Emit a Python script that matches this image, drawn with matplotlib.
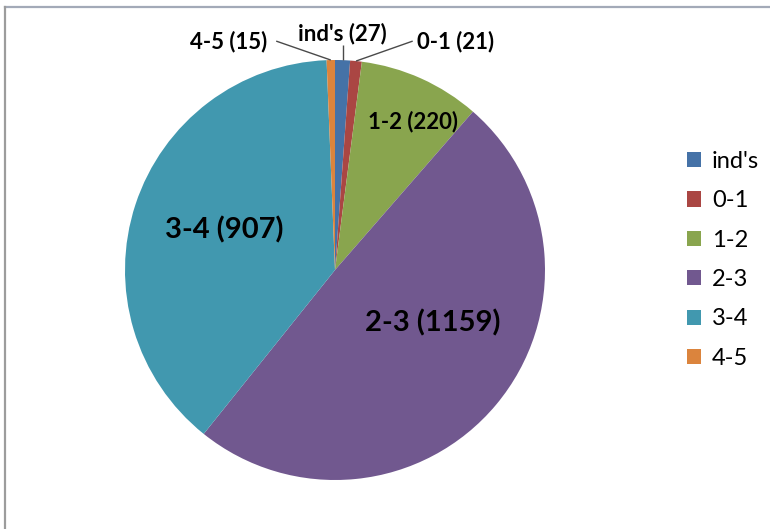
import numpy as np
import matplotlib
matplotlib.use("Agg")
import matplotlib.pyplot as plt
from matplotlib.patches import Rectangle

# data
labels = ["ind's", "0-1", "1-2", "2-3", "3-4", "4-5"]
counts = [27, 21, 220, 1159, 907, 15]
colors = ["#4572A7", "#AA4643", "#89A54E", "#71588F", "#4198AF", "#DB843D"]

plt.rcParams['font.family'] = ['Lato', 'DejaVu Sans']

fig = plt.figure(figsize=(7.7, 5.29), dpi=100)
fig.patch.set_facecolor("white")

# chart frame (top and left edges visible)
fig.add_artist(plt.Line2D([4.5/770, 1.0], [1 - 6.5/529, 1 - 6.5/529],
                          transform=fig.transFigure, color="#A3AAB8", lw=1.6))
fig.add_artist(plt.Line2D([4.5/770, 4.5/770], [0.0, 1 - 6.5/529],
                          transform=fig.transFigure, color="#9C9C9C", lw=1.6))

# pie axes: centre (335, 270) px, radius 210 px
ax = fig.add_axes([125/770, 49/529, 420/770, 420/529])
wedges, _ = ax.pie(counts, colors=colors, startangle=90, counterclock=False,
                   radius=1.0, wedgeprops=dict(linewidth=0))
ax.set_xlim(-1, 1)
ax.set_ylim(-1, 1)
ax.set_aspect("equal")
ax.axis("off")

def mid_angle(w):
    return np.deg2rad((w.theta1 + w.theta2) / 2.0)

# inside labels (radius, angle offset in degrees, font size)
inside = {2: (0.80, -3.5, 16), 3: (0.53, 11.5, 21), 4: (0.56, -1.5, 21)}
for i, (r, off, fs) in inside.items():
    a = mid_angle(wedges[i]) + np.deg2rad(off)
    ax.text(r * np.cos(a), r * np.sin(a), f"{labels[i]} ({counts[i]})",
            ha="center", va="center", fontsize=fs, fontweight="bold",
            color="black")

# outside labels with leader lines
outside = {
    0: ((0.04, 1.125), "center", [(0.04, 1.07)]),
    1: ((0.39, 1.09), "left", [(0.37, 1.09)]),
    5: ((-0.325, 1.09), "right", [(-0.28, 1.09)]),
}
for i, (pos, ha, knots) in outside.items():
    a = mid_angle(wedges[i])
    x0, y0 = np.cos(a), np.sin(a)
    pts = [(x0, y0)] + knots
    if ha == "center":
        pts = [(x0, y0), (x0, knots[0][1])]
    xs, ys = zip(*pts)
    ax.plot(xs, ys, color="#4A4A4A", lw=1.0, clip_on=False,
            solid_capstyle="butt")
    ax.text(pos[0] if ha != "center" else x0, pos[1],
            f"{labels[i]} ({counts[i]})", ha=ha, va="center",
            fontsize=16, fontweight="bold", color="black")

# legend
handles = [Rectangle((0, 0), 1, 1, facecolor=c, edgecolor="none") for c in colors]
leg = fig.legend(handles, labels, loc="upper left",
                 bbox_to_anchor=(675/770, 1 - 139/529), frameon=False,
                 fontsize=17, handlelength=0.62, handleheight=0.62,
                 handletextpad=0.45, labelspacing=0.78, borderpad=0.0)

fig.savefig("out.png", dpi=100, facecolor="white")
